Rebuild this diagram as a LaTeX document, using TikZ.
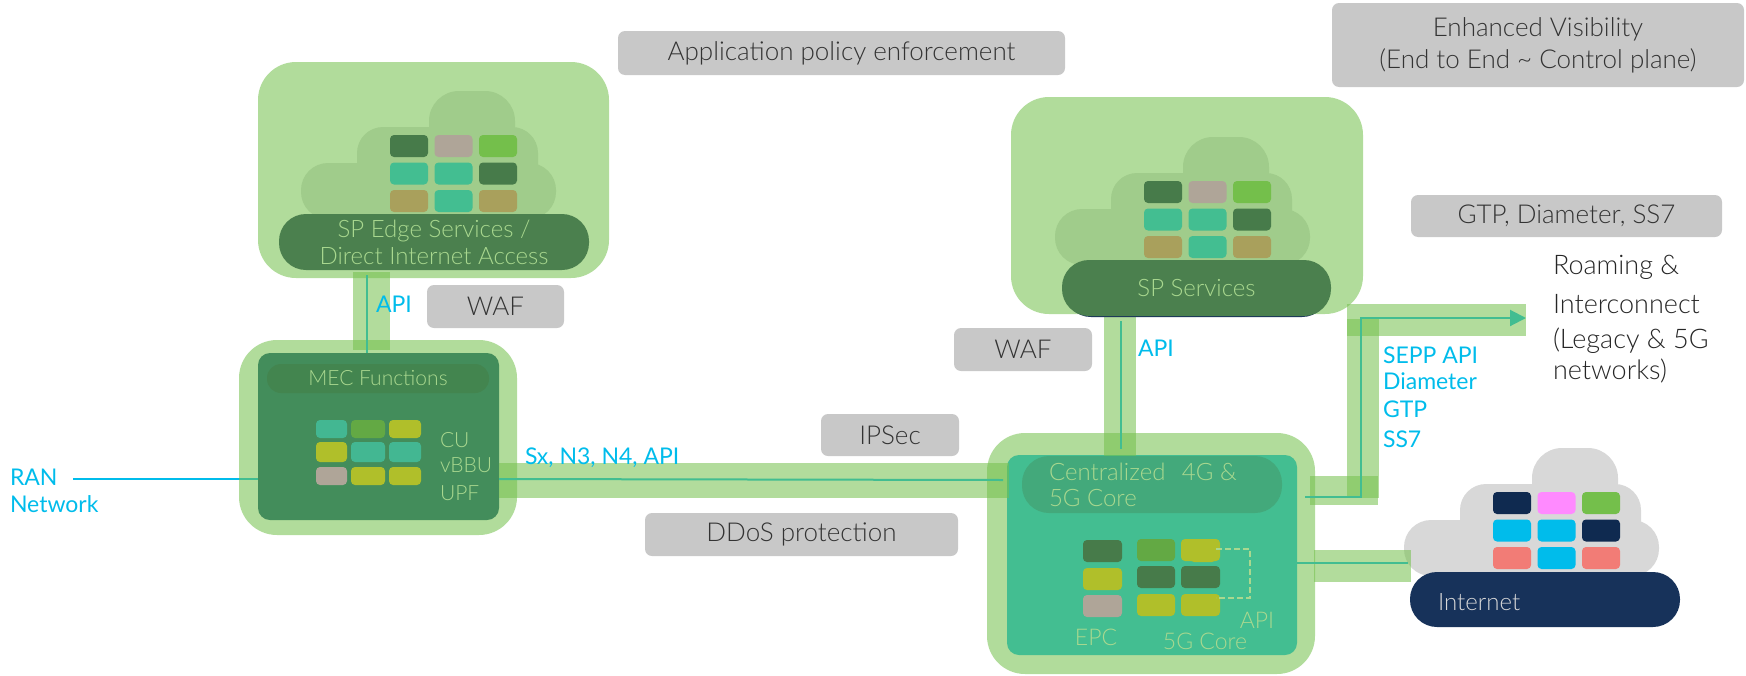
\documentclass[tikz,border=0pt]{standalone}
\usepackage{fontspec}
\setmainfont{Lato}[UprightFont=* Light]
\newfontfamily\regfont{Lato}
\usetikzlibrary{arrows.meta}
\definecolor{halo}{HTML}{B1DC9B}
\definecolor{bandc}{HTML}{75C14E}
\definecolor{wirec}{HTML}{42BD91}
\definecolor{ciscoblue}{HTML}{00BCEB}
\definecolor{greybox}{HTML}{C8C8C8}
\definecolor{softgreen}{HTML}{A9D88F}
\definecolor{cloudg}{HTML}{A0CC8B}
\definecolor{pilld}{HTML}{4B804E}
\definecolor{tdark}{HTML}{477B4A}
\definecolor{ttaupe}{HTML}{AFA598}
\definecolor{tgreen}{HTML}{74BF4B}
\definecolor{tteal}{HTML}{43BE91}
\definecolor{tolive}{HTML}{A9A05C}
\definecolor{tlime}{HTML}{B0BF2A}
\definecolor{tmid}{HTML}{63A944}
\definecolor{tmteal}{HTML}{43B792}
\definecolor{navy}{HTML}{0F2A50}
\definecolor{navyp}{HTML}{17325A}
\definecolor{tpink}{HTML}{FF8AFF}
\definecolor{tsalmon}{HTML}{F27C76}
\definecolor{cloudgrey}{HTML}{D8D8D8}
\definecolor{mecin}{HTML}{438D5B}
\definecolor{mecpill}{HTML}{43854F}
\definecolor{corepill}{HTML}{43A97B}
\definecolor{darktext}{HTML}{333333}
\tikzset{
  base/.style={inner sep=0pt,outer sep=0pt},
  halobox/.style={base,fill=halo,rounded corners=38pt},
  innerbox/.style={base,rounded corners=12pt},
  pillbox/.style={base,rounded corners=27pt},
  greyb/.style={base,fill=greybox,rounded corners=7pt,text=darktext,font=\fontsize{26}{32}\selectfont,align=center},
  tile/.style={base,rounded corners=4pt},
  softtxt/.style={base,text=softgreen,align=center,font=\fontsize{24}{30}\selectfont},
  softsmall/.style={base,text=softgreen,font=\fontsize{21}{25}\selectfont},
  bluetxt/.style={base,text=ciscoblue,anchor=west,font=\regfont\fontsize{23}{28}\selectfont},
  band/.style={base,fill=bandc,fill opacity=.56},
  wire/.style={draw=wirec,line width=2pt},
  ranwire/.style={draw=ciscoblue,line width=2pt},
  dashwire/.style={draw=softgreen,line width=2pt,dashed,dash pattern=on 6pt off 3pt},
}
\newcommand{\bx}[7]{%
  \pgfmathsetmacro{\xcen}{(#2+#4)/2}%
  \pgfmathsetmacro{\ycen}{(#3+#5)/2}%
  \node[minimum width={(#4-#2)*1pt},minimum height={(#5-#3)*1pt},#6] (#1) at (\xcen,\ycen) {#7};}
\newcommand{\cloudbody}[4]{%
  \pgfmathsetmacro{\ca}{#2+128}\pgfmathsetmacro{\cb}{#2+214}\pgfmathsetmacro{\cc}{#3+70}%
  \bx{#1a}{\ca}{#3}{\cb}{\cc}{base,fill=#4,rounded corners=30pt}{}%
  \pgfmathsetmacro{\ca}{#2+56}\pgfmathsetmacro{\cb}{#2+237}\pgfmathsetmacro{\cc}{#3+36}\pgfmathsetmacro{\cd}{#3+100}%
  \bx{#1b}{\ca}{\cc}{\cb}{\cd}{base,fill=#4,rounded corners=26pt}{}%
  \pgfmathsetmacro{\cb}{#2+255}\pgfmathsetmacro{\cc}{#3+72}\pgfmathsetmacro{\cd}{#3+128}%
  \bx{#1c}{#2}{\cc}{\cb}{\cd}{base,fill=#4,rounded corners=27pt}{}}
\newcommand{\cloudtiles}[4]{%
  \foreach \tc [count=\ti from 0] in {#4}{%
    \pgfmathtruncatemacro{\tcol}{mod(\ti,3)}%
    \pgfmathtruncatemacro{\trow}{div(\ti,3)}%
    \pgfmathsetmacro{\tx}{#2+89+44.5*\tcol}%
    \pgfmathsetmacro{\ty}{#3+44+27.5*\trow}%
    \pgfmathsetmacro{\txb}{\tx+38}%
    \pgfmathsetmacro{\tyb}{\ty+22}%
    \bx{#1\ti}{\tx}{\ty}{\txb}{\tyb}{tile,fill=\tc}{}%
  }}
\begin{document}
\begin{tikzpicture}[x=1pt,y=-1pt]
\useasboundingbox (0,0) rectangle (1746,675);
% halos
\bx{edgeHalo}{258}{62}{609}{278}{halobox}{}
\bx{spHalo}{1011}{97}{1363}{314}{halobox}{}
\bx{mecHalo}{239}{340}{517}{535}{halobox}{}
\bx{coreHalo}{987}{433}{1315}{674}{halobox}{}
% inner panels
\bx{mecIn}{258}{353}{499}{520}{innerbox,fill=mecin}{}
\bx{coreIn}{1007}{455}{1297}{655}{innerbox,fill=tteal}{}
% clouds
\cloudbody{edgeCloud}{301}{91}{cloudg}
\cloudtiles{edgeT}{301}{91}{tdark,ttaupe,tgreen,tteal,tteal,tdark,tolive,tteal,tolive}
\cloudbody{spCloud}{1055}{137}{cloudg}
\cloudtiles{spT}{1055}{137}{tdark,ttaupe,tgreen,tteal,tteal,tdark,tolive,tteal,tolive}
\cloudbody{netCloud}{1404}{448}{cloudgrey}
\cloudtiles{netT}{1404}{448}{navy,tpink,tgreen,ciscoblue,ciscoblue,navy,tsalmon,ciscoblue,tsalmon}
% bands
\bx{bandEdge}{353}{272}{390}{350}{band}{}
\bx{bandMec}{499}{463}{1009}{498}{band}{}
\bx{bandSp}{1104}{313}{1136}{456}{band}{}
\bx{bandRtop}{1347}{304}{1526}{336}{band}{}
\bx{bandRv}{1347}{319}{1379}{498}{band}{}
\bx{bandRlow}{1310}{476}{1378}{505}{band}{}
\bx{bandNet}{1314}{550}{1411}{582}{band}{}
% pills
\bx{edgePill}{279}{214}{589}{270}{pillbox,fill=pilld,softtxt}{SP Edge Services /\\[-3pt]Direct Internet Access}
\bx{spUnder}{1064}{262}{1329}{317}{pillbox,fill=navyp}{}
\bx{spPill}{1062}{260}{1331}{316}{pillbox,fill=pilld,softtxt}{SP Services}
\bx{mecPill}{267}{364}{489}{393}{base,rounded corners=14pt,fill=mecpill,softsmall}{MEC Functions}
\bx{corePill}{1022}{456}{1282}{513}{pillbox,fill=corepill}{}
\bx{netPill}{1410}{572}{1680}{627}{pillbox,fill=navyp}{}
\node[base,anchor=west,text=softgreen,align=left,font=\fontsize{24}{26}\selectfont] (coreTxt) at (1049,485) {Centralized\hspace{10pt} 4G \&\\5G Core};
\node[base,anchor=west,text=cloudgrey,font=\fontsize{24}{28}\selectfont] (netTxt) at (1438,602) {Internet};
% MEC tiles
\foreach \nm/\xa/\ya/\xb/\yb/\cl in {
  a/316/420/347/438/tmteal,b/351/420/385/438/tmid,c/389/420/421/438/tlime,
  d/316/442/347/462/tlime,e/351/442/385/462/tmteal,f/389/442/421/462/tmteal,
  g/316/467/347/485/ttaupe,h/351/467/385/485/tlime,i/389/467/421/485/tlime}{
  \bx{mecT\nm}{\xa}{\ya}{\xb}{\yb}{tile,fill=\cl}{}
}
% core tiles
\foreach \nm/\xa/\ya/\xb/\yb/\cl in {
  a/1083/540/1122/562/tdark,b/1083/568/1122/590/tlime,c/1083/595/1122/617/ttaupe,
  d/1137/539/1175/561/tmid,e/1181/539/1220/561/tlime,x/1190/545/1216/562/tlime,
  f/1137/566/1175/588/tdark,g/1181/566/1220/588/tdark,
  h/1137/594/1175/616/tlime,i/1181/594/1220/616/tlime}{
  \bx{coreT\nm}{\xa}{\ya}{\xb}{\yb}{tile,fill=\cl}{}
}
% wires
\coordinate (ranStart) at (73,479);
\coordinate (ranMid) at (239,479);
\coordinate (ranEnd) at (258,479);
\draw[ranwire] (ranStart) -- (ranMid);
\draw[wire] (ranMid) -- (ranEnd);
\coordinate (apiA) at (367,275);
\coordinate (apiB) at (367,353);
\draw[wire,line width=1.5pt] (apiA) -- (apiB);
\coordinate (sxA) at (499,479);
\coordinate (sxB) at (1003,480);
\draw[wire] (sxA) -- (sxB);
\coordinate (spA) at (1121,321);
\coordinate (spB) at (1121,449);
\draw[wire] (spA) -- (spB);
\coordinate (roA) at (1305,497);
\coordinate (roB) at (1361,497);
\coordinate (roC) at (1361,318);
\coordinate (roD) at (1526,318);
\draw[wire,-{Triangle[length=16pt,width=16pt]}] (roA) -- (roB) -- (roC) -- (roD);
\coordinate (netA) at (1297,563);
\coordinate (netB) at (1408,563);
\draw[wire] (netA) -- (netB);
\coordinate (daA) at (1216,549);
\coordinate (daB) at (1250,549);
\coordinate (daC) at (1250,598);
\coordinate (daD) at (1216,598);
\draw[dashwire] (daA) -- (daB) -- (daC) -- (daD);
% grey labels
\bx{appPol}{618}{31}{1065}{75}{greyb}{Application policy enforcement}
\bx{visBox}{1332}{3}{1744}{87}{greyb}{Enhanced Visibility\\(End to End \textasciitilde{} Control plane)}
\bx{gtpBox}{1411}{195}{1722}{237}{greyb}{GTP, Diameter, SS7}
\bx{wafA}{427}{285}{564}{328}{greyb}{WAF}
\bx{wafB}{954}{328}{1092}{371}{greyb}{WAF}
\bx{ipsec}{821}{414}{959}{456}{greyb}{IPSec}
\bx{ddos}{645}{513}{958}{556}{greyb}{DDoS protection}
% soft labels
\node[softsmall,anchor=west] (cuT) at (440,440) {CU};
\node[softsmall,anchor=west] (vbT) at (440,465) {vBBU};
\node[softsmall,anchor=west] (upT) at (440,493) {UPF};
\node[softsmall,font=\fontsize{23}{26}\selectfont] (apiC) at (1257,620) {API};
\node[softsmall,font=\fontsize{23}{26}\selectfont] (epcT) at (1096,637) {EPC};
\node[softsmall,font=\fontsize{23}{26}\selectfont] (fgT) at (1205,641) {5G Core};
% blue labels
\node[bluetxt] (ran) at (10,477) {RAN};
\node[bluetxt] (ranN) at (10,504) {Network};
\node[bluetxt] (apiL) at (376,304) {API};
\node[bluetxt] (sxL) at (525,458) {Sx, N3, N4, API};
\node[bluetxt] (apiR) at (1138,348) {API};
\node[bluetxt] (sepp) at (1383,355) {SEPP API};
\node[bluetxt] (dia) at (1383,381) {Diameter};
\node[bluetxt] (gtpL) at (1383,409) {GTP};
\node[bluetxt] (ssL) at (1383,439) {SS7};
% roaming
\node[base,anchor=west,text=black!85,font=\fontsize{27}{30}\selectfont] (ro1) at (1553,267) {Roaming \&};
\node[base,anchor=west,text=black!85,font=\fontsize{27}{30}\selectfont] (ro2) at (1553,304) {Interconnect};
\node[base,anchor=west,text=black!85,font=\fontsize{27}{30}\selectfont] (ro3) at (1553,341) {(Legacy \& 5G};
\node[base,anchor=west,text=black!85,font=\fontsize{27}{30}\selectfont] (ro4) at (1553,371) {networks)};
\end{tikzpicture}
\end{document}
